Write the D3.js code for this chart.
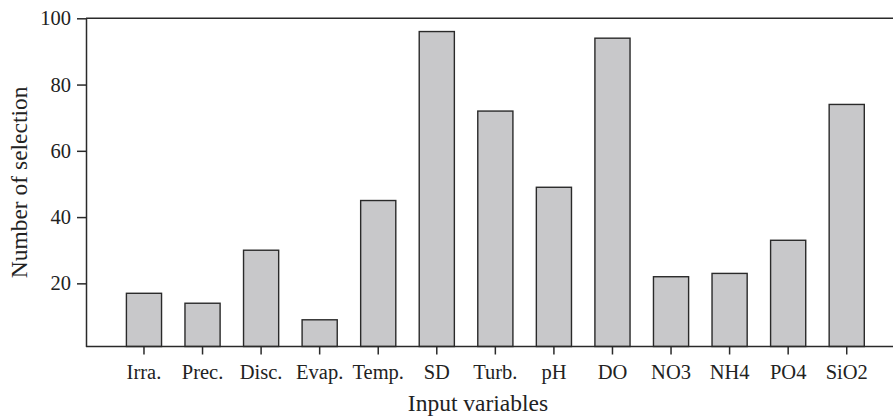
<!DOCTYPE html>
<html>
<head>
<meta charset="utf-8">
<script src="https://cdn.jsdelivr.net/npm/d3@7"></script>
<style>
  body { margin: 0; background: #fff; }
  svg { display: block; }
  text { font-family: "Liberation Serif", "Times New Roman", serif; fill: #222; }
</style>
</head>
<body>
<div id="wrapper"></div>
<script>
const width = 893,
    height = 416;

// data
const categories = ["Irra.", "Prec.", "Disc.", "Evap.", "Temp.", "SD", "Turb.", "pH", "DO", "NO3", "NH4", "PO4", "SiO2"];
const counts = [17, 14, 30, 9, 45, 96, 72, 49, 94, 22, 23, 33, 74];
const yTicks = [20, 40, 60, 80, 100];

const plotLeft = 86, plotTop = 18.3, plotBottom = 346.5;

const svg = d3.select("#wrapper")
    .append("svg")
    .attr("width", width)
    .attr("height", height);

const x = d3.scaleBand()
    .domain(categories)
    .range([plotLeft, 904.7])
    .paddingInner(0.4)
    .paddingOuter(0.69);

const y = d3.scaleLinear()
    .domain([0.94, 100])
    .range([plotBottom, plotTop]);

// bars
svg.append("g")
    .selectAll("rect")
    .data(categories)
    .enter().append("rect")
    .attr("x", d => x(d))
    .attr("y", (d, i) => y(counts[i]))
    .attr("width", x.bandwidth())
    .attr("height", (d, i) => y(0.94) - y(counts[i]))
    .attr("fill", "#c8c8ca")
    .attr("stroke", "#2a2a2a")
    .attr("stroke-width", 1.4);

// frame lines (top + bottom run off to the right edge)
const frame = svg.append("g")
    .attr("stroke", "#2a2a2a")
    .attr("stroke-width", 1.5);
frame.append("line").attr("x1", plotLeft).attr("x2", width).attr("y1", plotTop).attr("y2", plotTop);
frame.append("line").attr("x1", plotLeft).attr("x2", width).attr("y1", plotBottom).attr("y2", plotBottom);

// y axis
const yAxis = svg.append("g")
    .attr("transform", "translate(" + plotLeft + ",0)")
    .call(d3.axisLeft(y).tickValues(yTicks).tickSize(9).tickPadding(6).tickSizeOuter(0));
yAxis.select(".domain").attr("stroke", "#2a2a2a").attr("stroke-width", 1.5);
yAxis.selectAll(".tick line").attr("stroke", "#2a2a2a").attr("stroke-width", 1.5);
yAxis.selectAll(".tick text")
    .style("font-family", "Liberation Serif, serif")
    .style("font-size", "20.5px")
    .attr("fill", "#222");

// x axis
const xAxis = svg.append("g")
    .attr("transform", "translate(0," + plotBottom + ")")
    .call(d3.axisBottom(x).tickSize(8).tickPadding(10).tickSizeOuter(0));
xAxis.select(".domain").remove();
xAxis.selectAll(".tick line").attr("stroke", "#2a2a2a").attr("stroke-width", 1.5);
xAxis.selectAll(".tick text")
    .style("font-family", "Liberation Serif, serif")
    .style("font-size", "20.5px")
    .attr("fill", "#222");

// axis titles
svg.append("text")
    .attr("x", 478)
    .attr("y", 411)
    .attr("text-anchor", "middle")
    .style("font-size", "23.5px")
    .text("Input variables");

svg.append("text")
    .attr("transform", "translate(27," + ((plotTop + plotBottom) / 2) + ") rotate(-90)")
    .attr("text-anchor", "middle")
    .style("font-size", "23.5px")
    .text("Number of selection");
</script>
</body>
</html>
